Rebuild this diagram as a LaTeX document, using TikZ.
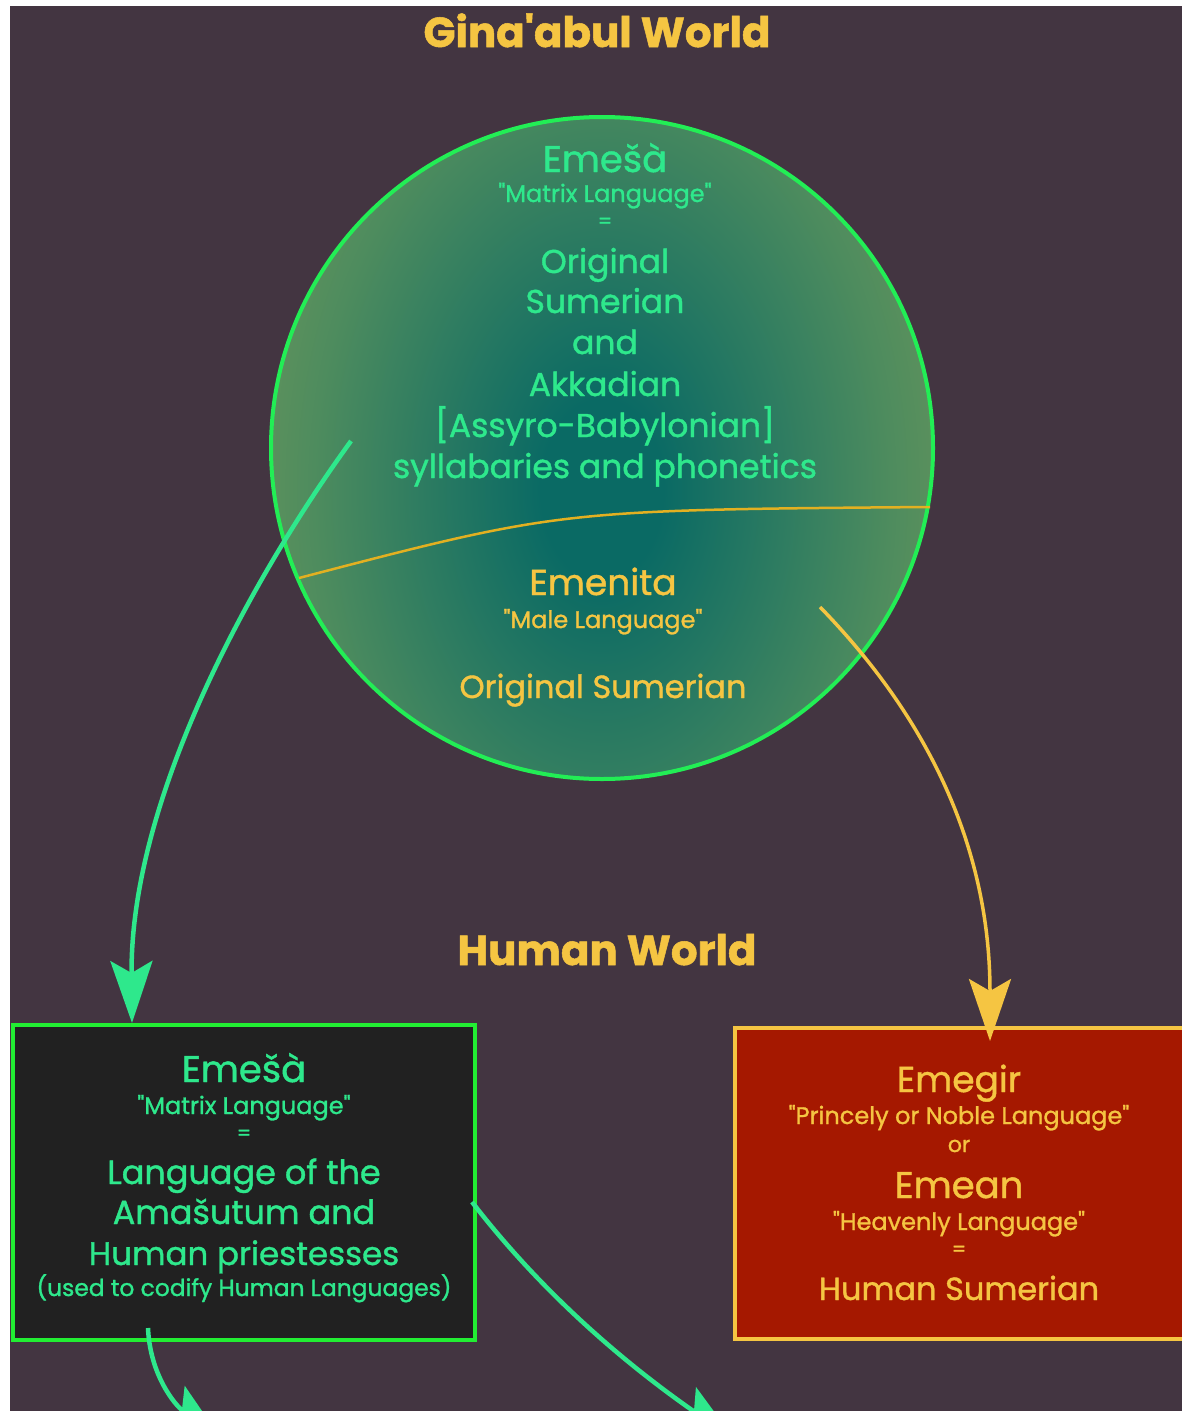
\documentclass[tikz,border=0pt]{standalone}
\usepackage{fontspec}
\newfontfamily\pp{Poppins}[FakeBold=1.2]
\usetikzlibrary{arrows.meta}
\definecolor{bg}{HTML}{433541}
\definecolor{mint}{HTML}{2EE88C}
\definecolor{gold}{HTML}{F5C542}
\definecolor{lime}{HTML}{22EE33}
\definecolor{orbline}{HTML}{22EE55}
\definecolor{orbin}{HTML}{0A6A64}
\definecolor{orbmid}{HTML}{4E8C5E}
\definecolor{orbout}{HTML}{7E9C58}
\definecolor{boxdark}{HTML}{212121}
\definecolor{boxred}{HTML}{A51800}
\definecolor{divline}{HTML}{E2B021}
\pgfdeclareradialshading{orb}{\pgfpoint{0bp}{0bp}}{color(0bp)=(orbin); color(4bp)=(orbin); color(19bp)=(orbmid); color(31bp)=(orbout); color(50bp)=(orbout)}
\newcommand\fsz[1]{\pp\fontsize{#1}{#1}\selectfont}
\begin{document}
\begin{tikzpicture}[x=1pt,y=-1pt,
  tmint/.style={text=mint, inner sep=0, anchor=base},
  tgold/.style={text=gold, inner sep=0, anchor=base},
  greenarrow/.style={draw=mint, line width=4.5, -{Stealth[length=62, width=42, inset=12]}},
  goldarrow/.style={draw=gold, line width=3.5, -{Stealth[length=62, width=42, inset=12]}},
  greenbox/.style={draw=lime, fill=boxdark, line width=4},
  redbox/.style={draw=gold, fill=boxred, line width=3.5}]
\useasboundingbox (0,0) rectangle (1182,1411);
\clip (0,0) rectangle (1182,1411);
\fill[white] (0,0) rectangle (1182,1411);
\fill[bg] (10,6) rectangle (1182,1411);

% orb
\begin{scope}
  \clip (602,448) circle (331);
  \shade[shading=orb] (602,490) ellipse (380 and 560);
\end{scope}
\node[circle, draw=orbline, line width=4, minimum size=662, inner sep=0] (orb) at (602,448) {};
\coordinate (divL) at (299,578);
\coordinate (divR) at (930,507);
\draw[divline, line width=2.5] (divL) .. controls (560,510) .. (divR);

% titles
\node[tgold, font=\fsz{42}\bfseries] (t1) at (597,47) {Gina'abul World};
\node[tgold, font=\fsz{42}\bfseries] (t2) at (607,965) {Human World};

% orb text
\node[tmint, font=\fsz{37}] (o1) at (605,172) {Emešà};
\node[tmint, font=\fsz{24}] (o2) at (605,202) {"Matrix Language"};
\node[tmint, font=\fsz{20}] (o3) at (605,228) {=};
\node[tmint, font=\fsz{33}] (o4) at (605,273) {Original};
\node[tmint, font=\fsz{33}] (o5) at (605,313) {Sumerian};
\node[tmint, font=\fsz{33}] (o6) at (605,354) {and};
\node[tmint, font=\fsz{33}] (o7) at (605,396) {Akkadian};
\node[tmint, font=\fsz{33}] (o8) at (605,437) {[Assyro-Babylonian]};
\node[tmint, font=\fsz{33}] (o9) at (605,478) {syllabaries and phonetics};
\node[tgold, font=\fsz{36}] (e1) at (603,595) {Emenita};
\node[tgold, font=\fsz{24}] (e2) at (603,628) {"Male Language"};
\node[tgold, font=\fsz{32}] (e3) at (603,698) {Original Sumerian};

% boxes
\path[greenbox] (13,1025) rectangle (475,1340);
\node[inner sep=0, minimum width=462, minimum height=315] (gbox) at (244,1182.5) {};
\path[redbox] (735,1028) rectangle (1200,1339);
\node[inner sep=0, minimum width=465, minimum height=311] (rbox) at (967.5,1183.5) {};

\node[tmint, font=\fsz{37}] (g1) at (244,1082) {Emešà};
\node[tmint, font=\fsz{24}] (g2) at (244,1114) {"Matrix Language"};
\node[tmint, font=\fsz{20}] (g3) at (244,1140) {=};
\node[tmint, font=\fsz{33.5}] (g4) at (244,1184) {Language of the};
\node[tmint, font=\fsz{33.5}] (g5) at (244,1224) {Amašutum and};
\node[tmint, font=\fsz{32.5}] (g6) at (244,1265) {Human priestesses};
\node[tmint, font=\fsz{23.4}] (g7) at (244,1296) {(used to codify Human Languages)};

\node[tgold, font=\fsz{36}] (r1) at (959,1092) {Emegir};
\node[tgold, font=\fsz{24}] (r2) at (959,1124) {"Princely or Noble Language"};
\node[tgold, font=\fsz{22}] (r3) at (959,1152) {or};
\node[tgold, font=\fsz{37}] (r4) at (959,1198) {Emean};
\node[tgold, font=\fsz{24}] (r5) at (959,1230) {"Heavenly Language"};
\node[tgold, font=\fsz{20}] (r6) at (959,1256) {=};
\node[tgold, font=\fsz{32}] (r7) at (959,1300) {Human Sumerian};

% arrows
\coordinate (gs) at (351,441);
\coordinate (gt) at (132,1023);
\coordinate (ys) at (820,607);
\coordinate (yt) at (990,1041);
\draw[greenarrow] (gs) .. controls (250,580) and (130,800) .. (gt);
\draw[goldarrow] (ys) .. controls (930,720) and (990,850) .. (yt);

\coordinate (b1s) at (148,1328);
\coordinate (b1t) at (222,1440);
\coordinate (b2s) at (472,1202);
\coordinate (b2t) at (735,1440);
\draw[greenarrow] (b1s) .. controls (150,1375) and (175,1405) .. (b1t);
\draw[greenarrow] (b2s) .. controls (540,1290) and (620,1360) .. (b2t);
\end{tikzpicture}
\end{document}
